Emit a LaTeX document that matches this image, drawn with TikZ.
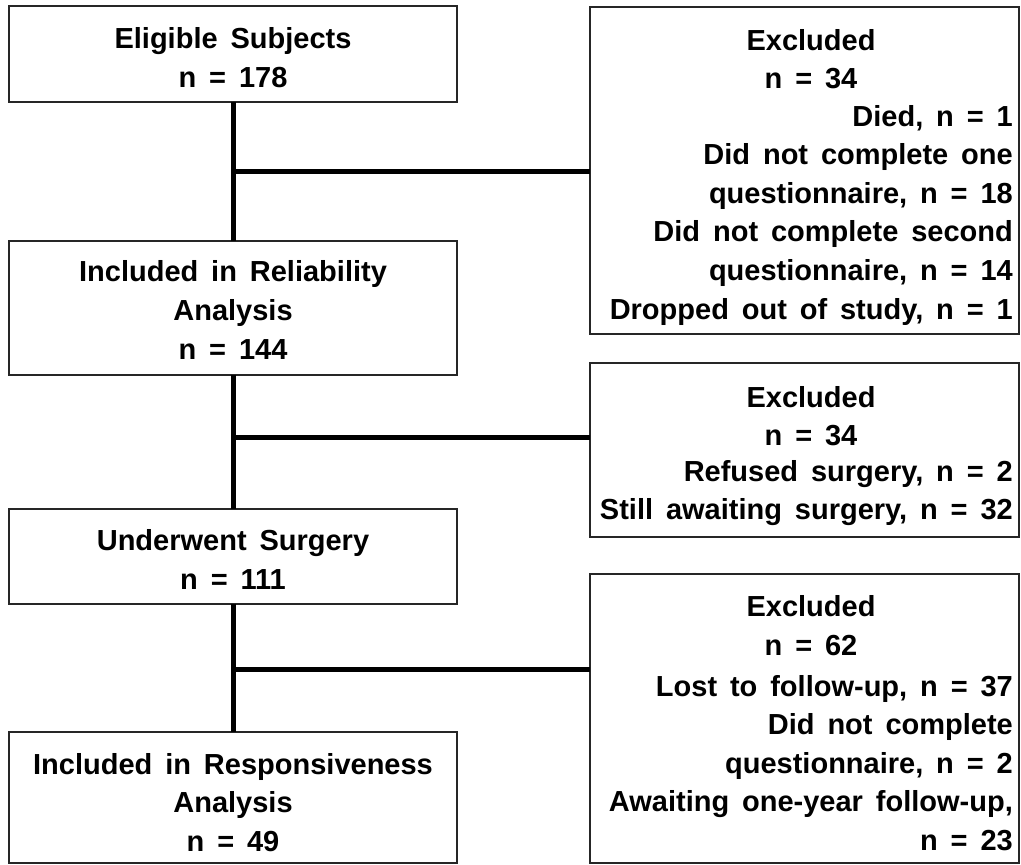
\documentclass[tikz,border=0pt]{standalone}
\usepackage{fontspec}
\setmainfont{Liberation Sans}[WordSpace=1.6]
\begin{document}
\begin{tikzpicture}[x=1pt,y=-1pt,
  box/.style={draw=black!85, line width=1.6pt, rectangle, inner sep=0pt, outer sep=0pt},
  txt/.style={font=\fontsize{29}{38.6}\selectfont\bfseries, inner sep=0pt},
  link/.style={draw=black, line width=5pt}]
\useasboundingbox (0,0) rectangle (1021,865);
% left boxes
\node[box, minimum width=448pt, minimum height=96pt] (b1) at (233,54) {};
\node[box, minimum width=448pt, minimum height=134pt] (b2) at (233,308) {};
\node[box, minimum width=448pt, minimum height=95pt] (b3) at (233,556.5) {};
\node[box, minimum width=448pt, minimum height=131pt] (b4) at (233,797.5) {};
\node[txt, align=center] (t1) at (233,57.5) {Eligible Subjects\\n = 178};
\node[txt, align=center] (t2) at (233,310) {Included in Reliability\\Analysis\\n = 144};
\node[txt, align=center] (t3) at (233,559.5) {Underwent Surgery\\n = 111};
\node[txt, align=center] (t4) at (233,802.5) {Included in Responsiveness\\Analysis\\n = 49};
% right boxes
\node[box, minimum width=429pt, minimum height=327pt] (r1) at (804.5,170.5) {};
\node[box, minimum width=429pt, minimum height=174pt] (r2) at (804.5,450) {};
\node[box, minimum width=429pt, minimum height=289pt] (r3) at (804.5,718.5) {};
\node[txt, align=center] (h1) at (811,59) {Excluded\\n = 34};
\node[txt, align=right, anchor=east] (d1) at (1013,215) {Died, n = 1\\Did not complete one\\questionnaire, n = 18\\Did not complete second\\questionnaire, n = 14\\Dropped out of study, n = 1};
\node[txt, align=center] (h2) at (811,416) {Excluded\\n = 34};
\node[txt, align=right, anchor=east] (d2) at (1013,493) {Refused surgery, n = 2\\Still awaiting surgery, n = 32};
\node[txt, align=center] (h3) at (811,625.5) {Excluded\\n = 62};
\node[txt, align=right, anchor=east] (d3) at (1013,763) {Lost to follow-up, n = 37\\Did not complete\\questionnaire, n = 2\\Awaiting one-year follow-up,\\n = 23};
% connectors
\draw[link] (b1.south) -- (b2.north);
\draw[link] (b2.south) -- (b3.north);
\draw[link] (b3.south) -- (b4.north);
\coordinate (j1) at (233,171);
\coordinate (j2) at (233,437);
\coordinate (j3) at (233,669);
\draw[link] (j1) -- (j1 -| r1.west);
\draw[link] (j2) -- (j2 -| r2.west);
\draw[link] (j3) -- (j3 -| r3.west);
\end{tikzpicture}
\end{document}
